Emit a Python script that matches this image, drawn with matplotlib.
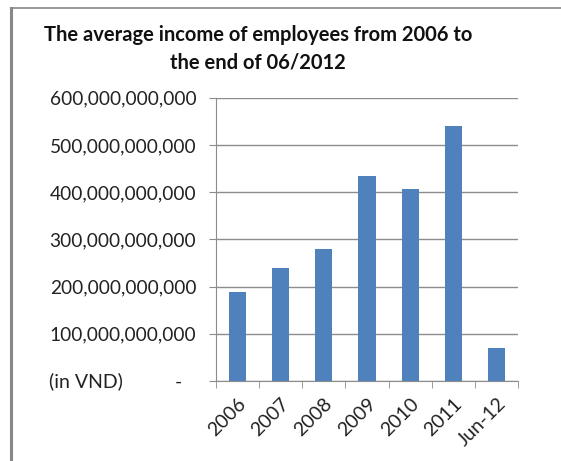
import matplotlib
matplotlib.use("Agg")
import matplotlib.pyplot as plt
from matplotlib.ticker import FuncFormatter, FixedLocator

# average income per period, VND
periods = ["2006", "2007", "2008", "2009", "2010", "2011", "Jun-12"]
income = [188e9, 240e9, 279e9, 434e9, 406e9, 540e9, 70e9]
y_ticks = [0, 100e9, 200e9, 300e9, 400e9, 500e9, 600e9]

plt.rcParams["font.family"] = ["Lato", "DejaVu Sans"]

grey = "#8c8c8c"
fig = plt.figure(figsize=(5.61, 4.61), dpi=100)
ax = fig.add_axes([0.3845, 0.1735, 0.5395, 0.6145])

x = list(range(len(periods)))
ax.bar(x, income, width=0.4, color="#4f81bd", zorder=3)

ax.set_xlim(-0.5, len(periods) - 0.5)
ax.set_ylim(0, 600e9)

ax.yaxis.set_major_locator(FixedLocator(y_ticks))


def fmt_vnd(v, pos):
    if v == 0:
        return "-   "
    return "{:,.0f}".format(v)


ax.yaxis.set_major_formatter(FuncFormatter(fmt_vnd))
ax.grid(axis="y", color=grey, linewidth=1.0, zorder=0)
ax.tick_params(axis="y", length=5, color=grey, pad=9, labelsize=13.8, labelcolor="#222222")

# category labels centred under bars, separator ticks between categories
ax.set_xticks(x)
ax.set_xticklabels(periods, rotation=45, ha="right", rotation_mode="anchor")
ax.tick_params(axis="x", which="major", length=0, pad=10, labelsize=14, labelcolor="#222222")
ax.set_xticks([i - 0.5 for i in range(len(periods) + 1)], minor=True)
ax.tick_params(axis="x", which="minor", length=5, color=grey)

for side in ["top", "right"]:
    ax.spines[side].set_visible(False)
for side in ["left", "bottom"]:
    ax.spines[side].set_color(grey)

fig.text(0.088, 0.1735, "(in VND)", fontsize=14, color="#222222", va="center")

fig.text(0.46, 0.895, "The average income of employees from 2006 to\nthe end of 06/2012",
         ha="center", va="center", fontsize=14.5, fontweight="bold",
         linespacing=1.45, color="#111111")

# chart frame edges
fig.add_artist(plt.Line2D([0.019, 0.019], [0, 0.983], color="#888888", linewidth=2.2))
fig.add_artist(plt.Line2D([0.019, 1.0], [0.983, 0.983], color="#888888", linewidth=1.2))

fig.savefig("out.png", dpi=100)
